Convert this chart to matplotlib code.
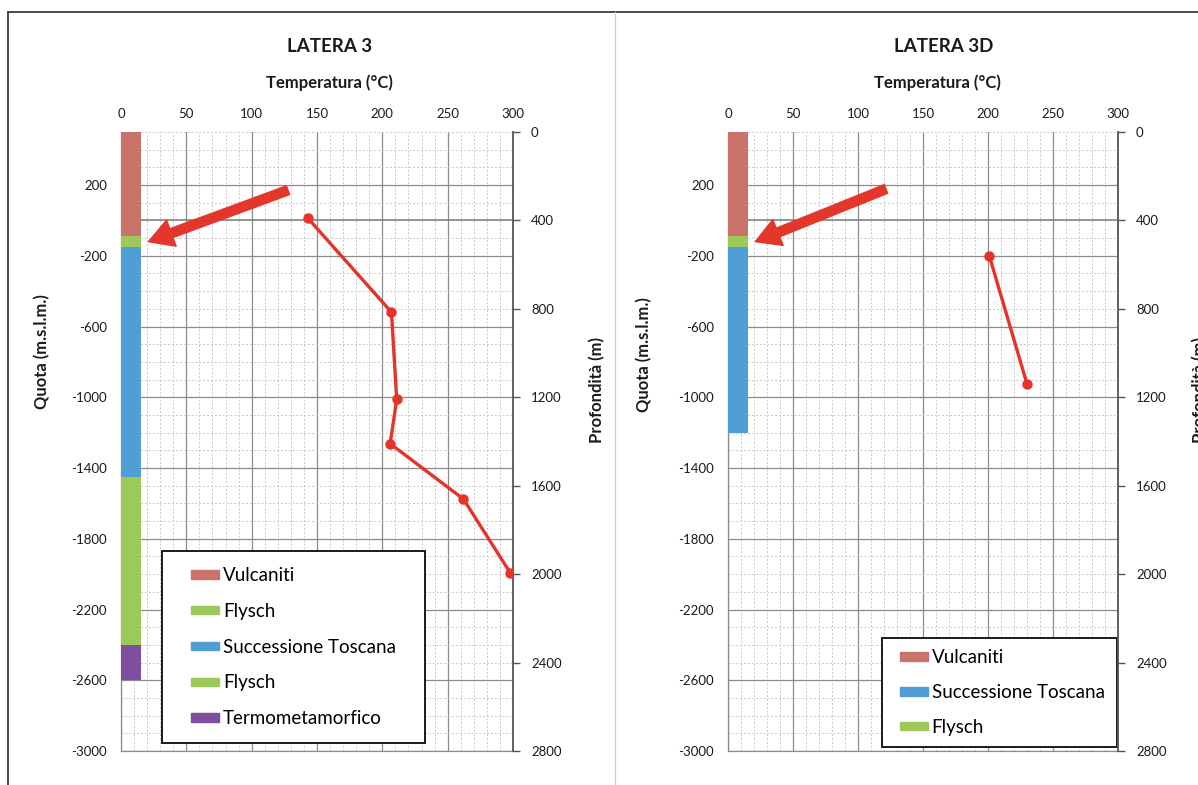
import numpy as np
import matplotlib
matplotlib.use("Agg")
import matplotlib.pyplot as plt
from matplotlib.patches import Rectangle
from matplotlib.legend_handler import HandlerPatch
from matplotlib.lines import Line2D

plt.rcParams['font.family'] = ['Lato', 'DejaVu Sans']

# ---------------- data ----------------
titles = ["LATERA 3", "LATERA 3D"]

# temperature profiles (°C vs depth m)
temp_L3 = [143, 207, 211, 206, 262, 298]
depth_L3 = [390, 815, 1210, 1410, 1660, 1995]
temp_L3D = [201, 230]
depth_L3D = [560, 1140]

# stratigraphic columns (quota m s.l.m.)
layer_names_L3 = ["Vulcaniti", "Flysch", "Successione Toscana", "Flysch", "Termometamorfico"]
layer_top_L3 = [500, -90, -150, -1450, -2400]
layer_bot_L3 = [-90, -150, -1450, -2400, -2600]
legend_order_L3 = [0, 1, 2, 3, 4]

layer_names_L3D = ["Vulcaniti", "Flysch", "Successione Toscana"]
layer_top_L3D = [500, -90, -150]
layer_bot_L3D = [-90, -150, -1200]
legend_order_L3D = [0, 2, 1]

layer_colors = {
    "Vulcaniti": "#c9736a",
    "Flysch": "#9dc85a",
    "Successione Toscana": "#4f9fd6",
    "Termometamorfico": "#7e4f9e",
}

temp_ticks = list(range(0, 301, 50))
quota_ticks = list(range(-3000, 201, 400))
depth_ticks = list(range(0, 2801, 400))

# ---------------- style ----------------
W, H = 1198, 785
fig = plt.figure(figsize=(W / 100, H / 100), dpi=100)

txt = "#1a1a1a"
major_c = "#8c8c8c"
minor_c = "#c8c8c8"
bar_w = 15


def patch_func(legend, orig_handle, xdescent, ydescent, width, height, fontsize):
    pw = 20
    ph = 6
    return Rectangle((-xdescent + width - pw, -ydescent + height / 2 - ph / 2), pw, ph)


def panel(rect, title, temps, depths, names, tops, bots, order, leg_bbox, leg_hl,
          leg_pad, leg_sp, arrow_tail, ylab_coords, rlab_coords, title_x, xlab_x):
    ax = fig.add_axes(rect)
    ax.set_xlim(0, 300)
    ax.set_ylim(-3000, 500)
    ax.set_xticks(temp_ticks)
    ax.set_xticks(np.arange(0, 301, 10), minor=True)
    ax.set_yticks(quota_ticks)
    ax.set_yticks(np.arange(-3000, 501, 100), minor=True)
    ax.grid(True, which="major", color=major_c, lw=0.9)
    ax.grid(True, which="minor", color=minor_c, lw=0.7, ls=(0, (2, 2)))
    ax.set_axisbelow(True)
    ax.axhline(0, color="#7a7a7a", lw=1.1, zorder=1)
    ax.xaxis.tick_top()
    ax.tick_params(axis="x", which="both", length=0, pad=9, labelsize=9.5, labelcolor=txt)
    ax.tick_params(axis="y", which="both", length=0, pad=10, labelsize=9.5, labelcolor=txt)
    ax.set_yticklabels([str(v) for v in quota_ticks])
    for s in ["left", "bottom"]:
        ax.spines[s].set_color(major_c)
        ax.spines[s].set_linewidth(0.9)
    for s in ["top", "right"]:
        ax.spines[s].set_visible(False)

    for n, t, b in zip(names, tops, bots):
        ax.bar(0, t - b, bottom=b, width=bar_w, align="edge",
               color=layer_colors[n], edgecolor="none", zorder=3, label=n)

    ax.set_title(title, fontsize=13.5, fontweight="bold", color=txt, x=title_x, y=1.115)
    ax.set_xlabel("Temperatura (°C)", fontsize=12, fontweight="bold", color=txt)
    ax.xaxis.set_label_position("top")
    ax.xaxis.set_label_coords(xlab_x, 1.071)
    ax.set_ylabel("Quota (m.s.l.m.)", fontsize=12, fontweight="bold", color=txt)
    ax.yaxis.set_label_coords(*ylab_coords)

    proxies = [Rectangle((0, 0), 1, 1, color=layer_colors[names[i]]) for i in order]
    leg = ax.legend(proxies, [names[i] for i in order],
                    loc="lower left", bbox_to_anchor=leg_bbox, mode="expand",
                    fontsize=13.5, frameon=True, fancybox=False, framealpha=1,
                    edgecolor="#1a1a1a", borderpad=leg_pad, labelspacing=leg_sp,
                    handlelength=leg_hl, handletextpad=0.2, borderaxespad=0,
                    handler_map={Rectangle: HandlerPatch(patch_func=patch_func)})
    leg.get_frame().set_linewidth(1.4)
    leg.set_zorder(6)

    # arrow pointing at the first Flysch layer
    fi = names.index("Flysch")
    tip = (bar_w + 6, (tops[fi] + bots[fi]) / 2)
    ax.annotate("", xy=tip, xycoords="data", xytext=arrow_tail, textcoords="axes fraction",
                arrowprops=dict(arrowstyle="simple,head_width=1.25,head_length=1.1,tail_width=0.42",
                                mutation_scale=16, color="#e3372b", shrinkA=0, shrinkB=0),
                zorder=7)

    ax2 = ax.twinx()
    ax2.set_ylim(2800, 0)
    ax2.set_yticks(depth_ticks)
    ax2.tick_params(axis="y", length=5, width=1, color="#555555", direction="out",
                    pad=8, labelsize=9.5, labelcolor=txt)
    for s in ["left", "top", "bottom"]:
        ax2.spines[s].set_visible(False)
    ax2.spines["right"].set_color("#555555")
    ax2.spines["right"].set_linewidth(1.3)
    ax2.plot(temps, depths, color="#e63329", lw=2.4, marker="o", ms=6.5,
             markerfacecolor="#e63329", markeredgecolor="#e63329", zorder=5)
    ax2.set_ylabel("Profondità (m)", fontsize=12, fontweight="bold", color=txt)
    ax2.yaxis.set_label_coords(*rlab_coords)
    return ax, ax2


def fx(px):
    return px / W


def fy(py):
    return 1 - py / H


panel([fx(121), fy(751), fx(392), 619 / H], titles[0], temp_L3, depth_L3,
      layer_names_L3, layer_top_L3, layer_bot_L3, legend_order_L3,
      (0.105, 0.013, 0.671, 0.31), 2.19, 0.85, 1.0, (0.426, 0.906),
      (-0.181, 0.645), (1.194, 0.583), 0.533, 0.531)

panel([fx(728), fy(751), fx(390), 619 / H], titles[1], temp_L3D, depth_L3D,
      layer_names_L3D, layer_top_L3D, layer_bot_L3D, legend_order_L3D,
      (0.395, 0.006, 0.602, 0.18), 1.84, 0.61, 0.95, (0.405, 0.908),
      (-0.195, 0.640), (1.19, 0.583), 0.554, 0.538)

# outer frame of the scanned figure
fig.add_artist(Line2D([fx(8), 1], [fy(12), fy(12)], transform=fig.transFigure, color="#3a3a3a", lw=1.3))
fig.add_artist(Line2D([fx(8), fx(8)], [0, fy(12)], transform=fig.transFigure, color="#3a3a3a", lw=1.3))
fig.add_artist(Line2D([fx(615), fx(615)], [0, fy(12)], transform=fig.transFigure, color="#cfcfcf", lw=0.9))

fig.savefig("out.png", dpi=100)
